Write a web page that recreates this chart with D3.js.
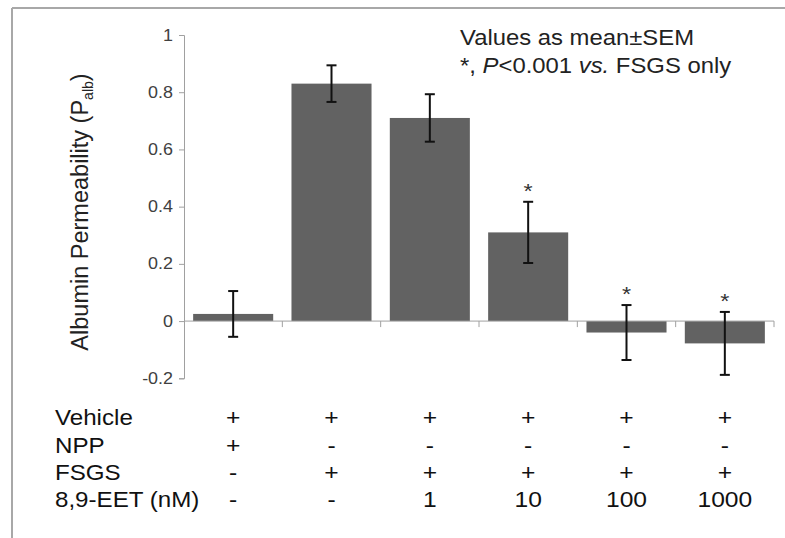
<!DOCTYPE html>
<html>
<head>
<meta charset="utf-8">
<script src="https://cdn.jsdelivr.net/npm/d3@7"></script>
<style>
  body { margin: 0; background: #fff; }
  text { font-family: "Liberation Sans", Arial, sans-serif; }
</style>
</head>
<body>
<svg width="785" height="538"></svg>
<script>
// treatment table (one entry per bar)
const vehicle = ['+', '+', '+', '+', '+', '+'];
const npp = ['+', '-', '-', '-', '-', '-'];
const fsgs = ['-', '+', '+', '+', '+', '+'];
const eet = ['-', '-', '1', '10', '100', '1000'];
const rowLabels = ['Vehicle', 'NPP', 'FSGS', '8,9-EET (nM)'];

// Palb mean and SEM
const means = [0.025, 0.83, 0.71, 0.31, -0.04, -0.078];
const sems = [0.08, 0.064, 0.083, 0.107, 0.096, 0.11];
const signif = [false, false, false, true, true, true];
const yTicks = [-0.2, 0, 0.2, 0.4, 0.6, 0.8, 1];

const svg = d3.select('svg');
const width = +svg.attr('width');
const height = +svg.attr('height');

// the original figure is a bit wider than tall, so text gets stretched sideways
const stretch = 1.12;

// frame (top + left edge only, like the cropped figure)
svg.append('line').attr('x1', 12).attr('x2', width).attr('y1', 8).attr('y2', 8)
  .attr('stroke', '#a8a8a8').attr('stroke-width', 2);
svg.append('line').attr('x1', 12).attr('x2', 12).attr('y1', 8).attr('y2', height)
  .attr('stroke', '#a8a8a8').attr('stroke-width', 2);

const idx = d3.range(means.length);
const x = d3.scaleBand().domain(idx).range([184, 774]).paddingInner(0.186).paddingOuter(0.093);
const y = d3.scaleLinear().domain([-0.2, 1]).range([378.3, 35]);
const cx = i => x(i) + x.bandwidth() / 2;

// y axis
const yAxis = svg.append('g')
  .attr('transform', 'translate(184,0)')
  .call(d3.axisLeft(y).tickValues(yTicks).tickSize(5).tickPadding(10)
    .tickFormat(d => String(+d.toFixed(1))));
yAxis.select('.domain').attr('stroke', '#a0a0a0');
yAxis.selectAll('.tick line').attr('stroke', '#a0a0a0');
yAxis.selectAll('.tick text').attr('font-size', 16).attr('fill', '#404040')
  .attr('transform', `scale(${stretch},1)`)
  .attr('x', -11 / stretch);

// bars
svg.append('g').selectAll('rect').data(idx).join('rect')
  .attr('x', i => x(i))
  .attr('width', x.bandwidth())
  .attr('y', i => y(Math.max(0, means[i])))
  .attr('height', i => Math.abs(y(means[i]) - y(0)))
  .attr('fill', '#626262');

// x axis at zero with ticks on category boundaries
const x0 = y(0);
svg.append('line').attr('x1', 184).attr('x2', 774).attr('y1', x0).attr('y2', x0)
  .attr('stroke', '#a0a0a0');
const bounds = idx.map(i => x(i) - (x.step() - x.bandwidth()) / 2).concat([774]);
svg.append('g').selectAll('line').data(bounds.slice(1)).join('line')
  .attr('x1', d => d).attr('x2', d => d)
  .attr('y1', x0).attr('y2', x0 + 6)
  .attr('stroke', '#a0a0a0');

// error bars
const cap = 5;
const err = svg.append('g').attr('stroke', '#111').attr('stroke-width', 2);
idx.forEach(i => {
  const top = y(means[i] + sems[i]);
  const bot = y(means[i] - sems[i]);
  err.append('line').attr('x1', cx(i)).attr('x2', cx(i)).attr('y1', top).attr('y2', bot);
  err.append('line').attr('x1', cx(i) - cap).attr('x2', cx(i) + cap).attr('y1', top).attr('y2', top);
  err.append('line').attr('x1', cx(i) - cap).attr('x2', cx(i) + cap).attr('y1', bot).attr('y2', bot);
});

// significance stars
svg.append('g').selectAll('text').data(idx.filter(i => signif[i])).join('text')
  .attr('transform', i => `translate(${cx(i)},${y(means[i] + sems[i]) - 4}) scale(${stretch},1)`)
  .attr('text-anchor', 'middle')
  .attr('font-size', 21)
  .attr('fill', '#333')
  .text('*');

// y label
const yl = svg.append('text')
  .attr('transform', 'translate(88,212) rotate(-90)')
  .attr('text-anchor', 'middle')
  .attr('font-size', 23.5)
  .attr('fill', '#222');
yl.append('tspan').text('Albumin Permeability (P');
yl.append('tspan').attr('font-size', 14).attr('dy', 5).text('alb');
yl.append('tspan').attr('dy', -5).text(')');

// note
const note = svg.append('g').attr('fill', '#222').attr('font-size', 21.3);
note.append('text').attr('transform', `translate(460,45) scale(${stretch},1)`)
  .text('Values as mean\u00b1SEM');
const n2 = note.append('text').attr('transform', `translate(460,73) scale(${stretch},1)`);
n2.append('tspan').text('*, ');
n2.append('tspan').attr('font-style', 'italic').text('P');
n2.append('tspan').text('<0.001 ');
n2.append('tspan').attr('font-style', 'italic').text('vs.');
n2.append('tspan').text(' FSGS only');

// treatment table
const rows = [vehicle, npp, fsgs, eet];
const rowY = [425, 453, 480, 507];
const table = svg.append('g').attr('fill', '#111').attr('font-size', 22);
rows.forEach((row, r) => {
  table.append('text')
    .attr('transform', `translate(55,${rowY[r]}) scale(${stretch * 0.98},1)`)
    .text(rowLabels[r]);
  table.append('g').selectAll('text').data(row).join('text')
    .attr('transform', (d, i) => `translate(${cx(i)},${rowY[r]}) scale(${stretch},1)`)
    .attr('text-anchor', 'middle')
    .text(d => d);
});
</script>
</body>
</html>
